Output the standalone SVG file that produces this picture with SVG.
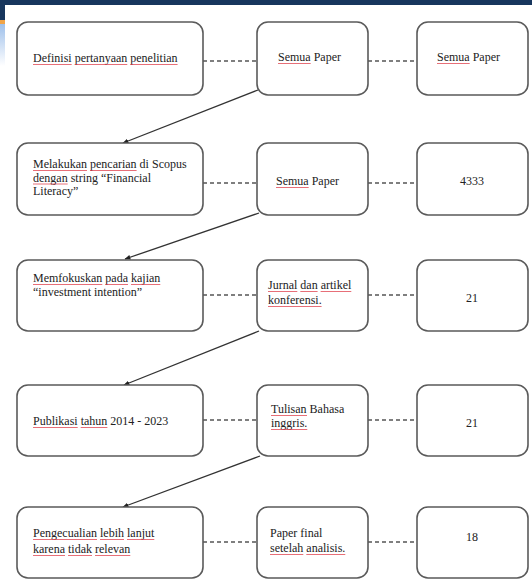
<svg xmlns="http://www.w3.org/2000/svg" width="532" height="583" viewBox="0 0 532 583">
<style>
.box{fill:#fff;stroke:#5a5a5a;stroke-width:1.6}
.t{font-family:"Liberation Serif","Times New Roman",serif;font-size:12px;fill:#222}
.c{text-anchor:middle}
.dash{stroke:#555;stroke-width:1.4;stroke-dasharray:4 3;fill:none}
.arr{stroke:#333;stroke-width:1.3;fill:none;marker-end:url(#ah)}
.sp{stroke:#e0404c;stroke-width:1;opacity:0.75}
</style>
<defs>
<marker id="ah" viewBox="0 0 10 10" refX="9" refY="5" markerWidth="6" markerHeight="6" orient="auto" markerUnits="userSpaceOnUse">
<path d="M0,1 L10,5 L0,9 Z" fill="#222"/>
</marker>
<linearGradient id="lb" x1="0" y1="0" x2="0" y2="1">
<stop offset="0" stop-color="#9ec0ea"/>
<stop offset="1" stop-color="#ffffff"/>
</linearGradient>
</defs>
<rect x="0" y="0" width="532" height="583" fill="#fff"/>
<g id="header">
<rect x="0" y="0" width="532" height="5" fill="#17365d"/>
<rect x="0" y="0" width="5" height="20" fill="#17365d"/>
<rect x="0" y="20" width="5" height="4" fill="#f0a448"/>
<rect x="0" y="24" width="5" height="42" fill="url(#lb)"/>
</g>
<g id="connectors">
<line class="dash" x1="203" y1="61" x2="257" y2="61"/>
<line class="dash" x1="368" y1="61" x2="417" y2="61"/>
<line class="dash" x1="203" y1="183" x2="257" y2="183"/>
<line class="dash" x1="368" y1="183" x2="417" y2="183"/>
<line class="dash" x1="203" y1="295" x2="257" y2="295"/>
<line class="dash" x1="368" y1="295" x2="417" y2="295"/>
<line class="dash" x1="203" y1="420" x2="257" y2="420"/>
<line class="dash" x1="368" y1="420" x2="417" y2="420"/>
<line class="dash" x1="203" y1="542" x2="257" y2="542"/>
<line class="dash" x1="368" y1="542" x2="417" y2="542"/>
<line class="arr" x1="258" y1="90" x2="123" y2="143"/>
<line class="arr" x1="259" y1="213" x2="125" y2="259"/>
<line class="arr" x1="259" y1="331" x2="124" y2="385"/>
<line class="arr" x1="260" y1="456" x2="123" y2="507"/>
</g>
<g id="n1a"><rect class="box" x="17" y="22" width="186" height="73" rx="11"/>
<text class="t" x="33" y="62">Definisi pertanyaan penelitian</text>
<path class="sp" d="M33 64.5H71.7M74.7 64.5H127.3M130.3 64.5H177.6"/></g>
<g id="n1b"><rect class="box" x="257" y="22" width="111" height="73" rx="11"/>
<text class="t" x="278" y="61">Semua Paper</text>
<path class="sp" d="M278 63.5H310.7"/></g>
<g id="n1c"><rect class="box" x="417" y="22" width="111" height="73" rx="11"/>
<text class="t" x="437" y="61">Semua Paper</text>
<path class="sp" d="M437 63.5H469.7"/></g>

<g id="n2a"><rect class="box" x="17" y="143" width="186" height="72" rx="11"/>
<text class="t" x="33" y="168">Melakukan pencarian di Scopus</text>
<text class="t" x="33" y="181.5">dengan string “Financial</text>
<text class="t" x="33" y="195">Literacy”</text>
<path class="sp" d="M33 170.5H87M90 170.5H136.6M33 184H67.7"/></g>
<g id="n2b"><rect class="box" x="257" y="143" width="111" height="72" rx="11"/>
<text class="t" x="276" y="185">Semua Paper</text>
<path class="sp" d="M276 187.5H308.7"/></g>
<g id="n2c"><rect class="box" x="417" y="143" width="111" height="72" rx="11"/>
<text class="t c" x="472" y="185">4333</text></g>

<g id="n3a"><rect class="box" x="17" y="260" width="186" height="71" rx="11"/>
<text class="t" x="33" y="282">Memfokuskan pada kajian</text>
<text class="t" x="33" y="296">“investment intention”</text>
<path class="sp" d="M33 284.5H102.3M105.3 284.5H128M131 284.5H160.3"/></g>
<g id="n3b"><rect class="box" x="257" y="260" width="111" height="71" rx="11"/>
<text class="t" x="268" y="289">Jurnal dan artikel</text>
<text class="t" x="268" y="304">konferensi.</text>
<path class="sp" d="M268 291.5H297.3M300.3 291.5H317.6M320.6 291.5H351.3M268 306.5H321.6"/></g>
<g id="n3c"><rect class="box" x="417" y="260" width="111" height="71" rx="11"/>
<text class="t c" x="472" y="302">21</text></g>

<g id="n4a"><rect class="box" x="17" y="385" width="186" height="71" rx="11"/>
<text class="t" x="33" y="425">Publikasi tahun 2014 - 2023</text>
<path class="sp" d="M33 427.5H77.7M80.7 427.5H107.4"/></g>
<g id="n4b"><rect class="box" x="257" y="385" width="111" height="71" rx="11"/>
<text class="t" x="271" y="413">Tulisan Bahasa</text>
<text class="t" x="271" y="427">inggris.</text>
<path class="sp" d="M271 415.5H307M271 429.5H307.3"/></g>
<g id="n4c"><rect class="box" x="417" y="385" width="111" height="71" rx="11"/>
<text class="t c" x="472" y="427">21</text></g>

<g id="n5a"><rect class="box" x="17" y="507" width="186" height="71" rx="11"/>
<text class="t" x="33" y="537">Pengecualian lebih lanjut</text>
<text class="t" x="33" y="553">karena tidak relevan</text>
<path class="sp" d="M33 539.5H97M100 539.5H124M127 539.5H154.3M33 555.5H65M68 555.5H92M95 555.5H130.3"/></g>
<g id="n5b"><rect class="box" x="257" y="507" width="111" height="71" rx="11"/>
<text class="t" x="270" y="537">Paper final</text>
<text class="t" x="270" y="552">setelah analisis.</text>
<path class="sp" d="M270 554.5H303.3M306.3 554.5H345.3"/></g>
<g id="n5c"><rect class="box" x="417" y="507" width="111" height="71" rx="11"/>
<text class="t c" x="472" y="541">18</text></g>
</svg>
